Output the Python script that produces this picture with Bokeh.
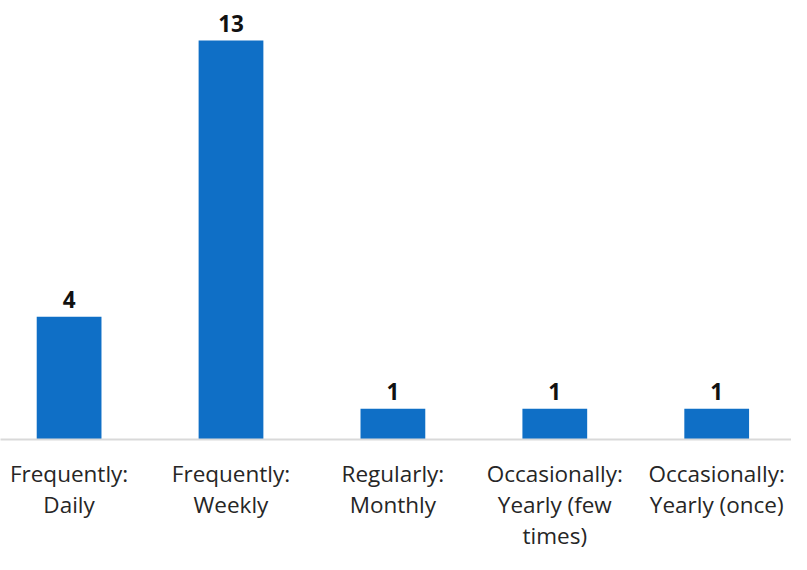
from bokeh.plotting import figure
from bokeh.models import Range1d, FixedTicker, ColumnDataSource
from bokeh.core.properties import value
from bokeh.embed import file_html
from bokeh.resources import INLINE

categories = ["Frequently:\nDaily", "Frequently:\nWeekly", "Regularly:\nMonthly",
              "Occasionally:\nYearly (few\ntimes)", "Occasionally:\nYearly (once)"]
counts = [4, 13, 1, 1, 1]

idx = list(range(len(categories)))
src = ColumnDataSource(dict(x=idx, top=counts, label=[str(c) for c in counts]))

p = figure(width=791, height=554, output_backend="svg", toolbar_location=None,
           x_range=Range1d(-0.4237, 4.462), y_range=Range1d(0, 14.3),
           min_border_left=0, min_border_right=0, min_border_top=0, min_border_bottom=115,
           outline_line_color=None, background_fill_color="white", border_fill_color="white")
p.grid.visible = False
p.yaxis.visible = False

p.vbar(x="x", top="top", width=0.4, source=src, fill_color="#0F6FC6", line_color=None)
p.text(x="x", y="top", text="label", source=src, text_align="center",
       text_baseline="alphabetic", y_offset=-17, text_font=value("Open Sans"),
       text_font_style="bold", text_font_size="22.5px", text_color="#111111")

ax = p.xaxis[0]
ax.ticker = FixedTicker(ticks=idx)
ax.major_label_overrides = {i: c for i, c in zip(idx, categories)}
ax.major_tick_line_color = None
ax.minor_tick_line_color = None
ax.axis_line_color = "#D9D9D9"
ax.axis_line_width = 2
ax.major_label_standoff = 12
ax.major_label_text_font = "Open Sans"
ax.major_label_text_font_size = "22.5px"
ax.major_label_text_color = "#262626"
ax.major_label_text_line_height = 1.0
ax.major_label_orientation = "horizontal"

open("out.html", "w").write(file_html(p, INLINE))
